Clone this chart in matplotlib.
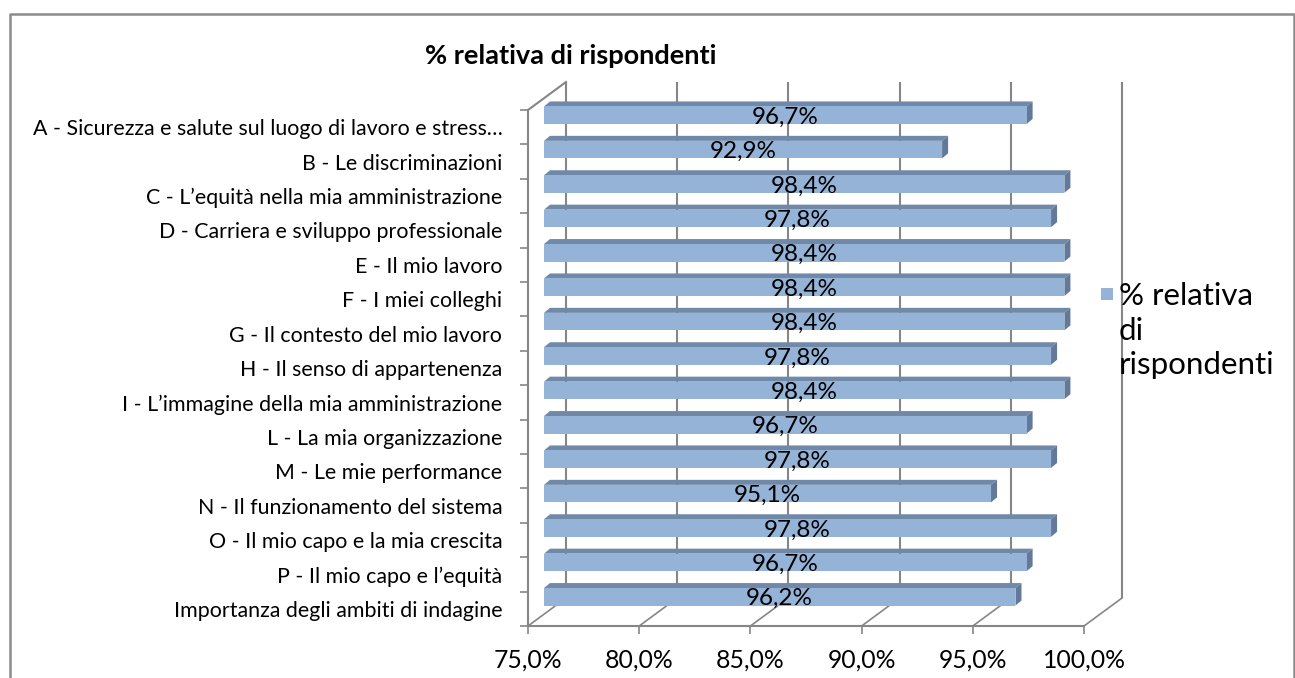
import matplotlib
matplotlib.use("Agg")
import matplotlib.pyplot as plt
from matplotlib.patches import Polygon, Rectangle

categories = [
    "A - Sicurezza e salute sul luogo di lavoro e stress…",
    "B - Le discriminazioni",
    "C - L’equità nella mia amministrazione",
    "D - Carriera e sviluppo professionale",
    "E - Il mio lavoro",
    "F - I miei colleghi",
    "G - Il contesto del mio lavoro",
    "H - Il senso di appartenenza",
    "I - L’immagine della mia amministrazione",
    "L - La mia organizzazione",
    "M - Le mie performance",
    "N - Il funzionamento del sistema",
    "O - Il mio capo e la mia crescita",
    "P - Il mio capo e l’equità",
    "Importanza degli ambiti di indagine",
]
values = [96.7, 92.9, 98.4, 97.8, 98.4, 98.4, 98.4, 97.8, 98.4, 96.7, 97.8, 95.1, 97.8, 96.7, 96.2]
x_ticks = [75, 80, 85, 90, 95, 100]
series_name = "% relativa di rispondenti"

W, H = 1295, 678
GRID = "#868686"
FACE = "#95b3d7"
TOP = "#7089a9"
SIDE = "#62799a"
plt.rcParams["font.family"] = ["Lato", "DejaVu Sans"]

fig = plt.figure(figsize=(W / 100, H / 100), dpi=100, facecolor="white")

def fx(px):
    return px / W

def fy(py):
    return 1 - py / H

# front plane of the fake 3D box, measured in pixels
L, R, T, B = 528, 1084, 110, 626
ax = fig.add_axes([fx(L), fy(B), (R - L) / W, (B - T) / H])
ax.set_xlim(75, 100)
ax.set_ylim(len(categories), 0)
ax.patch.set_alpha(0)

ux = (R - L) / 25              # px per percent
uy = (B - T) / len(categories)  # px per category

def off(dx, dy):
    # pixel offset -> data units
    return dx / ux, dy / uy

# outer frame of the picture
fig.add_artist(plt.Line2D([fx(10), fx(10), fx(1294), fx(1294)],
                          [fy(H), fy(14), fy(14), fy(H)], color="#8c8c8c", lw=1.8))

# back wall gridlines and floor lines
back_x, back_y = off(38, -28)
for t in x_ticks:
    ax.plot([t + back_x, t + back_x], [back_y, len(categories) + back_y],
            color=GRID, lw=1.5, zorder=1, clip_on=False, solid_capstyle="butt")
    ax.plot([t, t + back_x], [len(categories), len(categories) + back_y],
            color=GRID, lw=1.2, zorder=1, clip_on=False)
ax.plot([75, 75 + back_x], [0, back_y], color=GRID, lw=1.5, zorder=1, clip_on=False)

# bars: front face plus top and side faces
bar_dx, bar_dy = off(16, -12)
dep_dx, dep_dy = off(6, -5)
bar_h = 17.5 / uy
for i, v in enumerate(values):
    x0 = 75 + bar_dx
    x1 = v + bar_dx
    yc = i + 0.5 + bar_dy
    y0, y1 = yc - bar_h / 2, yc + bar_h / 2
    ax.add_patch(Polygon([(x0, y0), (x0 + dep_dx, y0 + dep_dy), (x1 + dep_dx, y0 + dep_dy), (x1, y0)],
                         fc=TOP, ec="none", zorder=3, clip_on=False))
    ax.add_patch(Polygon([(x1, y0), (x1 + dep_dx, y0 + dep_dy), (x1 + dep_dx, y1 + dep_dy), (x1, y1)],
                         fc=SIDE, ec="none", zorder=3, clip_on=False))
    ax.barh(yc, v - 75, left=x0, height=bar_h, color=FACE, edgecolor="none", zorder=4, clip_on=False)
    ax.text((x0 + x1) / 2, yc + 2 / uy, f"{v:.1f}%".replace(".", ","), ha="center", va="center",
            fontsize=17.5, color="black", zorder=5)

# axes
for s in ["top", "right"]:
    ax.spines[s].set_visible(False)
for s in ["left", "bottom"]:
    ax.spines[s].set_color(GRID)
    ax.spines[s].set_linewidth(1.5)
ax.set_xticks(x_ticks)
ax.set_xticklabels([f"{t:.1f}%".replace(".", ",") for t in x_ticks], fontsize=17.8)
ax.tick_params(axis="x", length=5.5, width=1.2, color=GRID, pad=11)
ax.set_yticks(range(len(categories) + 1))
ax.set_yticklabels([])
ax.tick_params(axis="y", which="major", length=5.5, width=1.2, color=GRID)
ax.set_yticks([i + 0.5 for i in range(len(categories))], minor=True)
ax.set_yticklabels(categories, minor=True, fontsize=15.4)
ax.tick_params(axis="y", which="minor", length=0, pad=18.5)

fig.text(fx(570.5), fy(56), series_name, ha="center", va="center", fontsize=19.5, fontweight="bold")

# legend, swatch sits on the first wrapped line
fig.add_artist(Rectangle((fx(1101), fy(300)), 12 / W, 12 / H, transform=fig.transFigure,
                         fc=FACE, ec="none"))
fig.text(fx(1119), fy(296), "% relativa", ha="left", va="center", fontsize=22.5)
fig.text(fx(1119), fy(331), "di", ha="left", va="center", fontsize=22.5)
fig.text(fx(1119), fy(365), "rispondenti", ha="left", va="center", fontsize=22.5)

fig.savefig("out.png", dpi=100)
